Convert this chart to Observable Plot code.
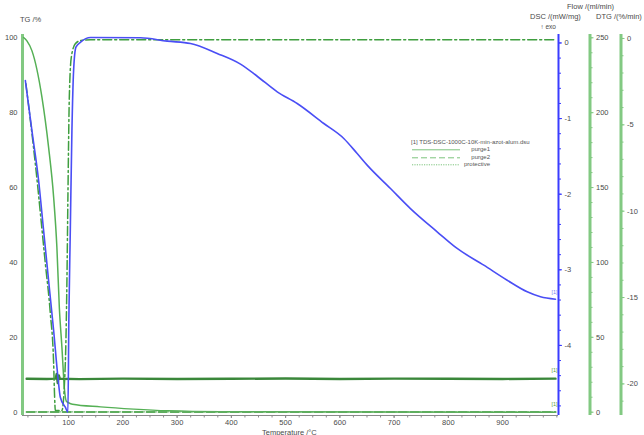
<!DOCTYPE html>
<html>
<head>
<meta charset="utf-8">
<script src="https://cdn.jsdelivr.net/npm/d3@7"></script>
<script src="https://cdn.jsdelivr.net/npm/@observablehq/plot@0.6"></script>
<style>
  body { margin: 0; background: #fff; font-family: "Liberation Sans", Arial, sans-serif; }
  #wrap { position: relative; width: 644px; height: 435px; overflow: hidden; }
  #wrap svg { position: absolute; left: 0; top: 0; }
  .lbl { position: absolute; font-size: 7.5px; color: #4a4a4a; white-space: nowrap; line-height: 1; }
</style>
</head>
<body>
<div id="wrap"></div>
<script>
// ---------- data ----------
const tgT = [17.1, 23.1, 32.3, 50.8, 63.1, 72.4, 78.4, 82.9, 87.6, 92.6, 95.8, 100, 107, 159, 220, 282, 380, 997.5];
const tgV = [100, 99.1, 96.5, 84.1, 70.7, 57.4, 44.0, 28.0, 17.5, 5.8, 3.0, 2.6, 2.2, 1.5, 0.9, 0.45, 0.2, 0.05];

const dscT = [20.2, 32.3, 44.7, 53.9, 63.1, 72.4, 80.3, 84.7, 93.9, 98.7, 100.4, 103.1, 106.1, 109.2, 113.5, 122.1, 140.6, 232.7, 281.8, 324.7, 373.9, 416.8, 447.6, 484.5, 521.3, 570.4, 607.2, 631.9, 650.3, 693.3, 730.1, 779.3, 816.2, 865.3, 908.4, 945.3, 969.8, 997.5];
const dscV = [-0.496, -1.157, -1.819, -2.480, -3.142, -3.803, -4.421, -4.685, -4.817, -4.884, -3.671, -2.480, -1.157, -0.364, -0.056, 0.011, 0.072, 0.069, 0.024, -0.007, -0.139, -0.280, -0.440, -0.646, -0.800, -1.065, -1.263, -1.462, -1.616, -1.925, -2.190, -2.497, -2.718, -2.939, -3.138, -3.291, -3.357, -3.389];

const dtgT = [21.3, 38.6, 57.1, 66.3, 72.4, 74.2, 75.5, 87.6, 93.9, 96.9, 98.7, 101.3, 105.0, 112.3, 122.1, 140.6, 997.7];
const dtgV = [-2.62, -7.24, -13.03, -15.92, -18.82, -20.77, -21.54, -21.54, -18.82, -14.01, -9.19, -3.40, -1.08, -0.31, -0.12, -0.08, -0.08];

const flowT = [22.6, 60, 76, 78, 80, 82, 84, 120, 200, 300, 400, 500, 600, 700, 800, 900, 997.5];
const purge1 = [22.3, 22.2, 22.4, 25.5, 19.5, 24.5, 22.3, 22.1, 22.4, 22.2, 22.3, 22.5, 22.2, 22.4, 22.3, 22.2, 22.4];
const purgeT = [22.6, 997.5];
const purge2 = [0.2, 0.2];
const protective = [0.2, 0.2];

const xTicks = [100, 200, 300, 400, 500, 600, 700, 800, 900];
const tgTicks = [0, 20, 40, 60, 80, 100];
const dscTicks = [0, -1, -2, -3, -4];
const flowTicks = [0, 50, 100, 150, 200, 250];
const dtgTicks = [0, -5, -10, -15, -20];

// ---------- layout ----------
const W = 644, H = 435;
const M = {marginLeft: 22, marginRight: 86, marginTop: 34, marginBottom: 20};
const xDomain = [15, 1003];
const font = {fontFamily: "Liberation Sans, Arial, sans-serif", fontSize: "7.5px", color: "#4a4a4a", background: "transparent", overflow: "visible"};

const C = {
  axisGreen: "#82c982", tg: "#55b055", dtg: "#3f9e3f", flow: "#3a873a", purge2: "#5fae5f",
  blue: "#4a4ef5", blueAxis: "#3a3cff", grey: "#8a8a8a"
};

const zip = (xs, ys) => xs.map((x, i) => ({x, y: ys[i]}));
const tg = zip(tgT, tgV), dsc = zip(dscT, dscV), dtg = zip(dtgT, dtgV);
const p1 = zip(flowT, purge1), p2 = zip(purgeT, purge2), pr = zip(purgeT, protective);

function layer(yDomain, marks) {
  return Plot.plot({
    width: W, height: H, ...M,
    x: {domain: xDomain, axis: null},
    y: {domain: yDomain, axis: null},
    style: font,
    marks
  });
}
function rightAxis(ticks, minor, dx, color, minorSize) {
  return [
    Plot.ruleX([xDomain[1]], {dx, stroke: color, strokeWidth: color === C.blueAxis ? 2 : 3}),
    Plot.axisY({anchor: "right", ticks: minor, tickSize: minorSize, dx, stroke: color, tickFormat: () => "", label: null}),
    Plot.axisY({anchor: "right", ticks, tickSize: 3, tickPadding: 3, dx, stroke: color, fill: "#4a4a4a", tickFormat: d => String(d), label: null})
  ];
}

const wrap = document.getElementById("wrap");

// TG layer (with temperature axis)
wrap.append(layer([-0.8, 100.8], [
  Plot.ruleY([-0.8], {stroke: C.grey, strokeWidth: 1}),
  Plot.axisX({ticks: d3.range(25, 1001, 25), tickSize: 2.5, stroke: C.grey, tickFormat: () => "", label: null}),
  Plot.axisX({ticks: xTicks, tickSize: 3, tickPadding: 1, stroke: C.grey, fill: "#4a4a4a", label: null}),
  Plot.ruleX([xDomain[0]], {stroke: C.axisGreen, strokeWidth: 3}),
  Plot.axisY({anchor: "left", ticks: tgTicks, tickSize: 0, tickPadding: 5, fill: "#4a4a4a", label: null}),
  Plot.line(tg, {x: "x", y: "y", stroke: C.tg, strokeWidth: 1.5, curve: "monotone-x"})
]));

// Flow layer
wrap.append(layer([-2.2, 252.2], [
  ...rightAxis(flowTicks, d3.range(0, 251, 10), 31.5, C.axisGreen, 2),
  Plot.line(pr, {x: "x", y: "y", stroke: C.purge2, strokeWidth: 1, strokeDasharray: "1,2"}),
  Plot.line(p2, {x: "x", y: "y", stroke: C.purge2, strokeWidth: 2, strokeDasharray: "8,4"}),
  Plot.line(p1, {x: "x", y: "y", stroke: C.flow, strokeWidth: 2.4}),
  Plot.text(p1, Plot.selectLast({x: "x", y: "y", text: () => "[1]", dy: -8, dx: 2, textAnchor: "end", fill: "#5a9e3a", fontSize: 5.5})),
  Plot.text(p2, Plot.selectLast({x: "x", y: "y", text: () => "[1]", dy: -8, dx: 2, textAnchor: "end", fill: "#5a9e3a", fontSize: 5.5}))
]));

// DTG layer
wrap.append(layer([-21.83, 0.23], [
  ...rightAxis(dtgTicks, d3.range(-21, 1, 1), 62.5, C.axisGreen, 2),
  Plot.line(dtg, {x: "x", y: "y", stroke: C.dtg, strokeWidth: 1.5, strokeDasharray: "9,3,2,3", curve: "monotone-x"})
]));

// DSC layer
wrap.append(layer([-4.927, 0.112], [
  ...rightAxis(dscTicks, d3.range(-4.8, 0.01, 0.2), 0, C.blueAxis, 2),
  Plot.line(dsc, {x: "x", y: "y", stroke: C.blue, strokeWidth: 1.6, curve: "monotone-x"}),
  Plot.text(dsc, Plot.selectLast({x: "x", y: "y", text: () => "[1]", dy: -7, dx: 2, textAnchor: "end", fill: "#7a7cf0", fontSize: 5.5}))
]));

// titles & legend (HTML overlay)
function label(text, css) {
  const d = document.createElement("div");
  d.className = "lbl";
  d.textContent = text;
  Object.assign(d.style, css);
  wrap.append(d);
  return d;
}
label("TG /%", {left: "20px", top: "16px"});
label("Flow /(ml/min)", {left: "567px", top: "3px"});
label("DSC /(mW/mg)", {left: "530px", top: "13px"});
label("DTG /(%/min)", {left: "596px", top: "13px"});
label("\u2191 exo", {right: (644 - 556) + "px", top: "24px", fontSize: "6.5px"});
label("Temperature /\u00b0C", {left: "262px", top: "428.5px"});

const legend = document.createElement("div");
legend.style.cssText = "position:absolute;left:411px;top:139px;font-size:6px;color:#555;line-height:7.3px;";
legend.innerHTML =
  '<div>[1] TDS-DSC-1000C-10K-min-azot-alum.dsu</div>' +
  ['purge1|none', 'purge2|6,3', 'protective|1.2,1.2'].map(s => {
    const [name, dash] = s.split("|");
    return '<div style="position:relative;height:7.3px;width:79px">' +
      '<svg width="50" height="7" style="position:absolute;left:0;top:0"><line x1="1" x2="49" y1="3.8" y2="3.8" stroke="#7cc47c" stroke-width="1"' +
      (dash === "none" ? '' : ' stroke-dasharray="' + dash + '"') + '/></svg>' +
      '<span style="position:absolute;right:0;top:0">' + name + '</span></div>';
  }).join("");
wrap.append(legend);
</script>
</body>
</html>
